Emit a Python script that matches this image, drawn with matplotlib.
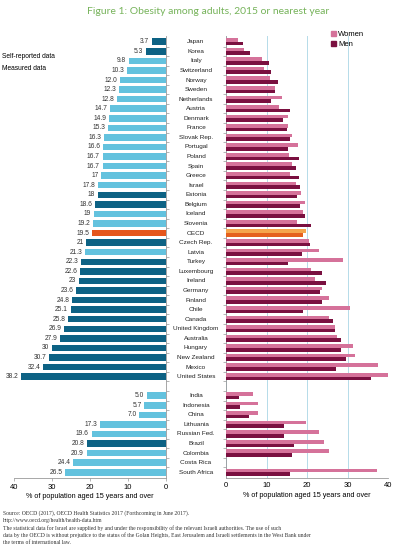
import numpy as np
import matplotlib.pyplot as plt
from matplotlib.patches import Patch
from matplotlib.transforms import blended_transform_factory

plt.rcParams['font.family'] = ['Liberation Sans', 'DejaVu Sans']

# OECD countries, sorted by total obesity rate
oecd_countries = ['Japan', 'Korea', 'Italy', 'Switzerland', 'Norway', 'Sweden',
                  'Netherlands', 'Austria', 'Denmark', 'France', 'Slovak Rep.',
                  'Portugal', 'Poland', 'Spain', 'Greece', 'Israel', 'Estonia',
                  'Belgium', 'Iceland', 'Slovenia', 'OECD', 'Czech Rep.', 'Latvia',
                  'Turkey', 'Luxembourg', 'Ireland', 'Germany', 'Finland', 'Chile',
                  'Canada', 'United Kingdom', 'Australia', 'Hungary', 'New Zealand',
                  'Mexico', 'United States']
oecd_total = ['3.7', '5.3', '9.8', '10.3', '12.0', '12.3', '12.8', '14.7', '14.9',
              '15.3', '16.3', '16.6', '16.7', '16.7', '17', '17.8', '18', '18.6',
              '19', '19.2', '19.5', '21', '21.3', '22.3', '22.6', '23', '23.6',
              '24.8', '25.1', '25.8', '26.9', '27.9', '30', '30.7', '32.4', '38.2']
# S = self-reported, M = measured, A = OECD average
oecd_type = ['M', 'M', 'S', 'S', 'S', 'S', 'S', 'S', 'S', 'S', 'S', 'S', 'S', 'S',
             'S', 'S', 'M', 'M', 'S', 'S', 'A', 'M', 'S', 'M', 'M', 'M', 'M', 'M',
             'M', 'M', 'M', 'M', 'M', 'M', 'M', 'M']
oecd_women = [3.0, 4.4, 8.9, 9.3, 10.9, 12.0, 13.9, 13.2, 15.4, 15.2, 16.3, 17.7,
              15.6, 16.3, 15.9, 17.3, 18.6, 19.4, 19.0, 17.5, 19.7, 20.6, 22.9,
              28.8, 20.9, 21.9, 23.6, 25.5, 30.5, 25.4, 26.8, 27.5, 31.4, 31.9,
              37.6, 40.3]
oecd_men = [4.1, 5.9, 10.5, 11.0, 12.8, 12.1, 11.2, 15.9, 14.0, 15.1, 15.8, 15.3,
            18.1, 17.2, 18.0, 18.2, 17.6, 18.3, 19.5, 21.1, 18.9, 20.8, 18.8,
            15.3, 23.7, 24.7, 23.1, 23.7, 19.1, 26.3, 27.0, 28.4, 28.4, 29.6,
            27.1, 35.7]

# partner countries
partner_countries = ['India', 'Indonesia', 'China', 'Lithuania', 'Russian Fed.',
                     'Brazil', 'Colombia', 'Costa Rica', 'South Africa']
partner_total = ['5.0', '5.7', '7.0', '17.3', '19.6', '20.8', '20.9', '24.4', '26.5']
partner_type = ['S', 'S', 'S', 'S', 'S', 'M', 'S', 'S', 'S']
partner_women = [6.6, 7.9, 8.0, 19.7, 23.0, 24.1, 25.4, np.nan, 37.2]
partner_men = [3.2, 3.5, 5.8, 14.2, 14.4, 16.8, 16.2, np.nan, 15.8]

source_lines = [
    'Source: OECD (2017), OECD Health Statistics 2017 (Forthcoming in June 2017).',
    'http://www.oecd.org/health/health-data.htm',
    'The statistical data for Israel are supplied by and under the responsibility of '
    'the relevant Israeli authorities. The use of such',
    'data by the OECD is without prejudice to the status of the Golan Heights, '
    'East Jerusalem and Israeli settlements in the West Bank under',
    'the terms of international law.',
]

countries = oecd_countries + [''] + partner_countries
total_str = oecd_total + [''] + partner_total
kinds = oecd_type + [''] + partner_type
women = oecd_women + [np.nan] + partner_women
men = oecd_men + [np.nan] + partner_men

ypos = np.arange(len(countries))
total = np.array([float(s) if s else np.nan for s in total_str])

light_blue = '#63c2de'
dark_teal = '#0d6284'
orange = '#e5561c'
pink = '#d5729a'
maroon = '#7a1040'
colour_map = {'S': light_blue, 'M': dark_teal, 'A': orange, '': 'none'}
left_colours = [colour_map[k] for k in kinds]

fig = plt.figure(figsize=(4.05, 5.46), dpi=100)
W, H = 405, 546
bottom = 1 - 478 / H
height = (478 - 36) / H
axL = fig.add_axes([14 / W, bottom, (166 - 14) / W, height])
axR = fig.add_axes([226 / W, bottom, (388 - 226) / W, height])

# left panel: total
axL.barh(ypos, total, color=left_colours, height=0.68)
for y, v, s in zip(ypos, total, total_str):
    if s:
        axL.text(v + 0.7, y, s, ha='right', va='center', fontsize=4.8, color='#333333')
axL.set_xlim(40, 0)
axL.set_ylim(len(countries) - 0.4, -0.6)
axL.set_xticks([0, 10, 20, 30, 40])
axL.set_yticks(ypos[:-1] + 0.5)
axL.yaxis.tick_right()
axL.tick_params(axis='y', labelright=False, length=2, color='#999999', width=0.5)
axL.tick_params(axis='x', labelsize=5.5, length=2, color='#999999', width=0.5, pad=2)
for side in ['top', 'left']:
    axL.spines[side].set_visible(False)
for side in ['right', 'bottom']:
    axL.spines[side].set_color('#999999')
    axL.spines[side].set_linewidth(0.6)
axL.set_xlabel('% of population aged 15 years and over', fontsize=5.2, labelpad=2)

# country names between the panels
tr = blended_transform_factory(fig.transFigure, axL.transData)
for y, c in zip(ypos, countries):
    axL.text(196 / W, y, c, transform=tr, fontsize=4.6, ha='center',
             va='center', color='#222222')

fig.text(2 / W, 1 - 57 / H, 'Self-reported data', fontsize=4.8, va='center')
fig.text(2 / W, 1 - 69 / H, 'Measured data', fontsize=4.8, va='center')

# right panel: women / men
bh = 0.38
wcol = [('#f5a54c' if c == 'OECD' else pink) for c in countries]
mcol = [('#e5611e' if c == 'OECD' else maroon) for c in countries]
axR.barh(ypos - bh / 2, women, height=bh, color=wcol, label='Women', zorder=3)
axR.barh(ypos + bh / 2, men, height=bh, color=mcol, label='Men', zorder=3)
axR.set_xlim(0, 40)
axR.set_ylim(len(countries) - 0.4, -0.6)
axR.set_xticks([0, 10, 20, 30, 40])
axR.set_yticks(ypos[:-1] + 0.5)
axR.tick_params(axis='y', labelleft=False, length=2, color='#999999', width=0.5)
axR.tick_params(axis='x', labelsize=5.5, length=0, pad=3)
axR.grid(axis='x', color='#b5dbe9', linewidth=0.7, zorder=0)
for side in ['top', 'right']:
    axR.spines[side].set_visible(False)
for side in ['left', 'bottom']:
    axR.spines[side].set_color('#999999')
    axR.spines[side].set_linewidth(0.6)
axR.set_xlabel('% of population aged 15 years and over', fontsize=5.2, labelpad=2)

handles = [Patch(color=pink, label='Women'), Patch(color=maroon, label='Men')]
fig.legend(handles=handles, loc='upper left', bbox_to_anchor=(328 / W, 1 - 28 / H),
           frameon=False, fontsize=5.5, handlelength=0.6, handleheight=0.6,
           handletextpad=0.3, labelspacing=0.4, borderaxespad=0)

fig.text(208 / W, 1 - 12 / H, 'Figure 1: Obesity among adults, 2015 or nearest year',
         fontsize=7.5, color='#76b35a', ha='center', va='center', family='Lato')

# source notes at the bottom
for i, line in enumerate(source_lines):
    fig.text(3 / W, 1 - (513 + 7.5 * i) / H, line, fontsize=4.1,
             family='Liberation Serif', color='#333333', va='center')

fig.savefig('out.png', dpi=100)
